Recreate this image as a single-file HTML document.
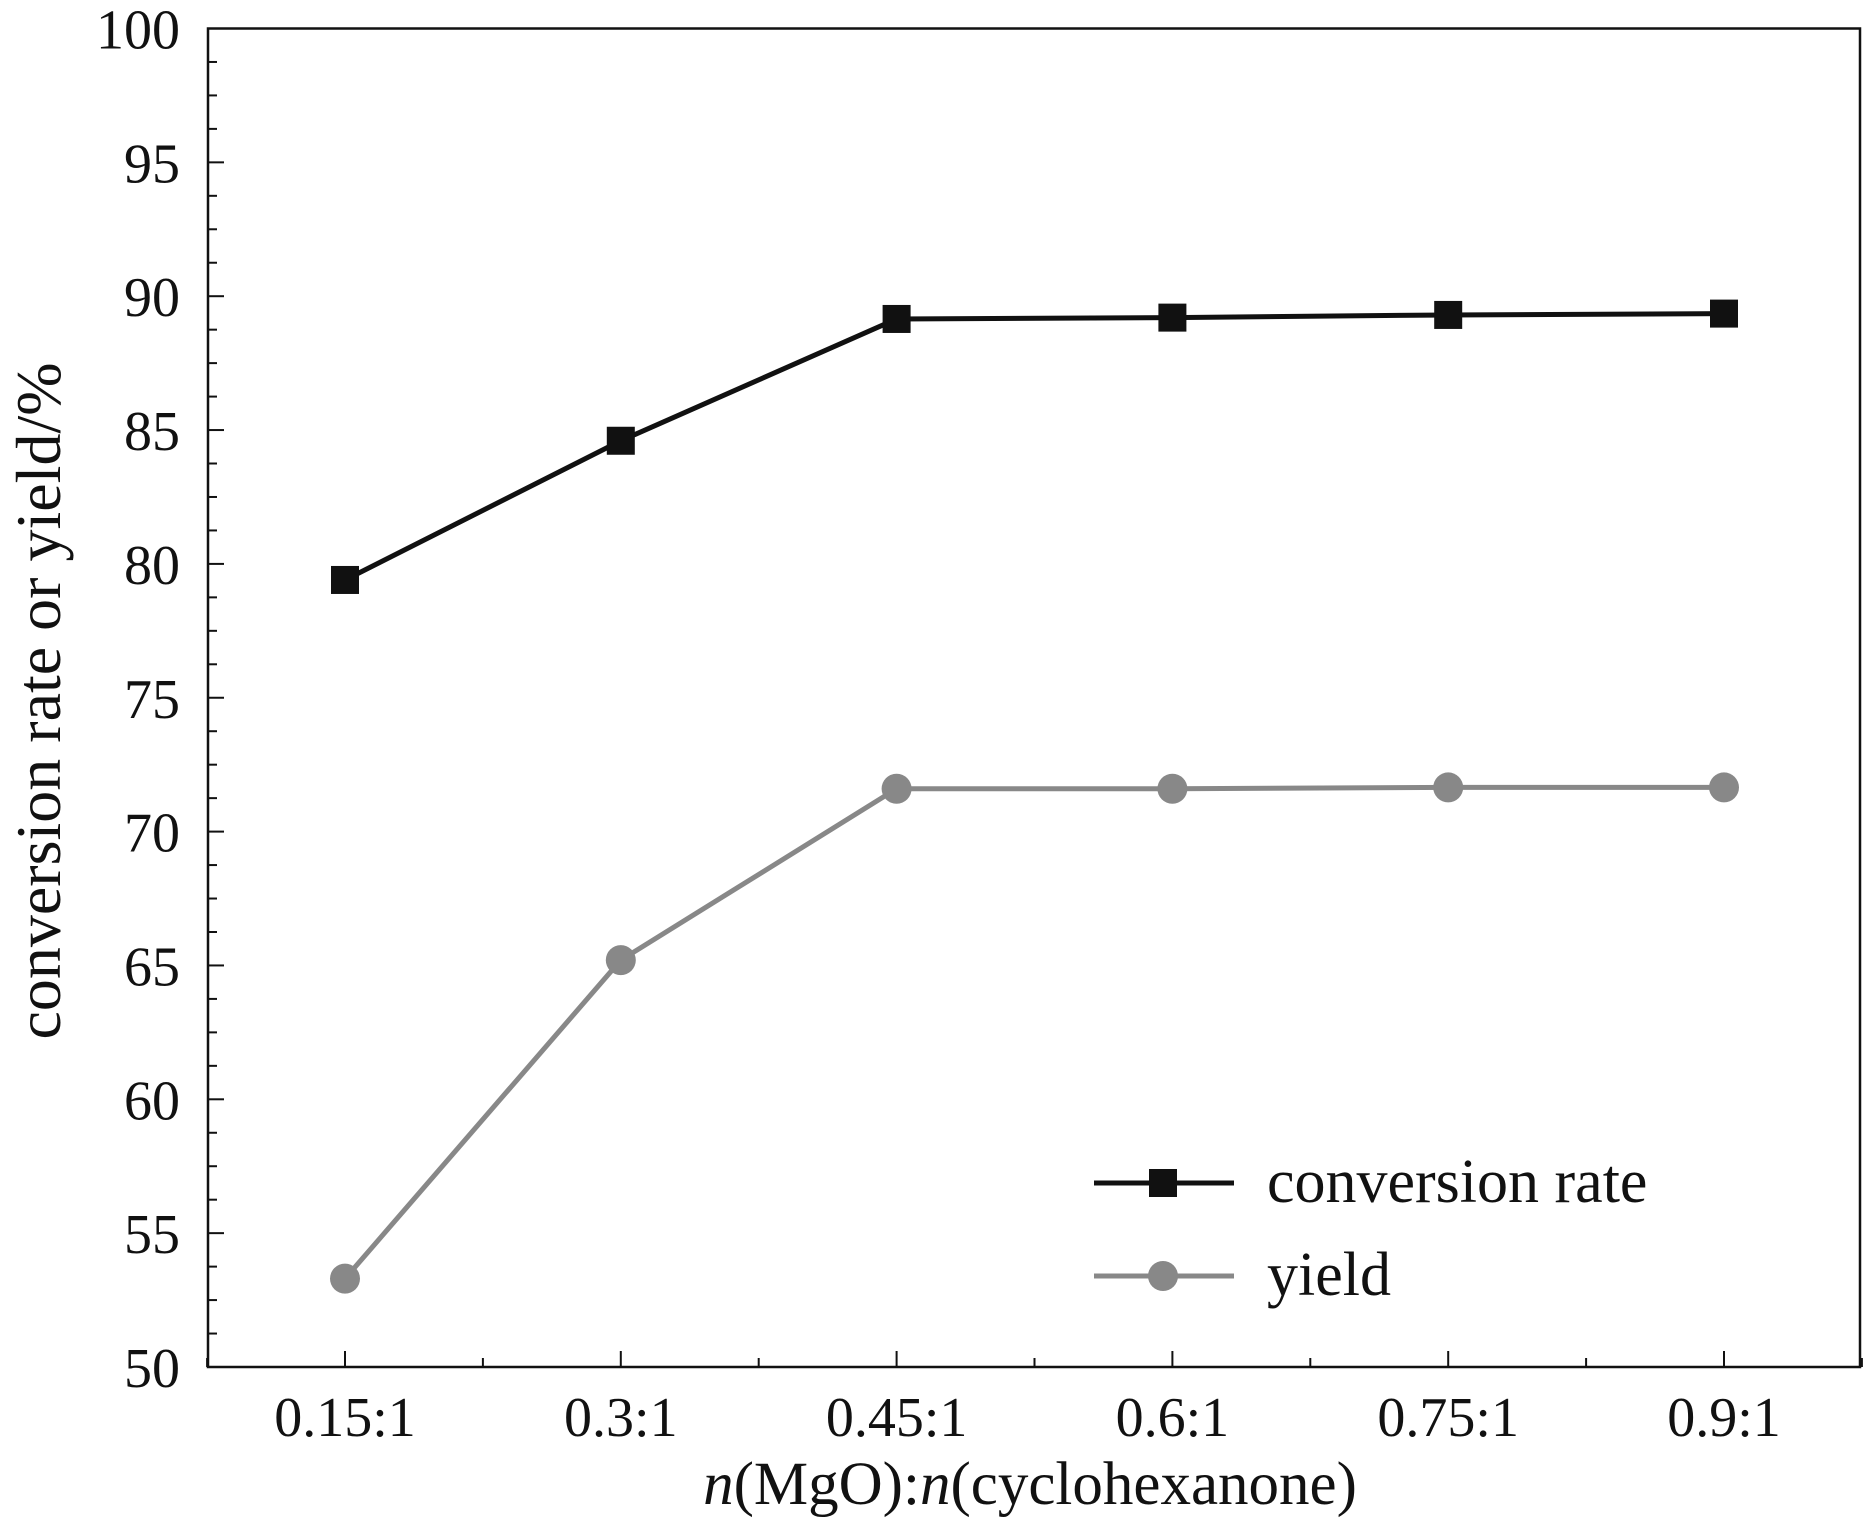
<!DOCTYPE html>
<html><head><meta charset="utf-8"><style>
html,body{margin:0;padding:0;background:#fff;}
svg{display:block;font-family:"Liberation Serif",serif;}
</style></head><body>
<svg id="chart" width="1864" height="1524" viewBox="0 0 1864 1524" xmlns="http://www.w3.org/2000/svg">
<g id="axes"></g>
<g id="series"></g>
<g id="legend">
  <line x1="1094" y1="1183" x2="1234" y2="1183" stroke="#111" stroke-width="5"/>
  <rect x="1149" y="1169" width="28" height="28" fill="#111"/>
  <text x="1267" y="1202" font-size="62" fill="#111">conversion rate</text>
  <line x1="1094" y1="1276" x2="1234" y2="1276" stroke="#888" stroke-width="5"/>
  <circle cx="1163" cy="1276" r="15" fill="#888"/>
  <text x="1267" y="1295" font-size="62" fill="#111">yield</text>
</g>
<text x="1030" y="1504" text-anchor="middle" font-size="61" fill="#111"><tspan font-style="italic">n</tspan>(MgO):<tspan font-style="italic">n</tspan>(cyclohexanone)</text>
<text transform="translate(60,701) rotate(-90)" text-anchor="middle" font-size="64" fill="#111">conversion rate or yield/%</text>
</svg>
<script>
const categories = ["0.15:1","0.3:1","0.45:1","0.6:1","0.75:1","0.9:1"];
const conversion = [79.4,84.6,89.15,89.2,89.3,89.35];
const yieldVals = [53.3,65.2,71.6,71.6,71.65,71.65];
const yTicks = [50,55,60,65,70,75,80,85,90,95,100];

const L=208,R=1860,T=28.5,B=1367;
const ns="http://www.w3.org/2000/svg";
function y(v){return B-(v-50)/50*(B-T);}
function x(i){return 345+i*275.8;}
function mk(tag,attrs,parent){const e=document.createElementNS(ns,tag);for(const k in attrs)e.setAttribute(k,attrs[k]);parent.appendChild(e);return e;}
const ax=document.getElementById('axes');
const frame=mk('rect',{x:L,y:T,width:R-L,height:B-T,fill:'none',stroke:'#111','stroke-width':2.5},ax);


for(let v=50;v<=100.01;v+=1.25){
  const major=Math.abs(v/5-Math.round(v/5))<1e-6;
  mk('line',{x1:L,x2:L+(major?16:9),y1:y(v),y2:y(v),stroke:'#111','stroke-width':2},ax);
}
yTicks.forEach(v=>{
  const t=mk('text',{x:180,y:y(v)+20,'text-anchor':'end','font-size':56,fill:'#111'},ax);
  t.textContent=v;
  
  
});
categories.forEach((c,i)=>{
  mk('line',{x1:x(i),x2:x(i),y1:B,y2:B-16,stroke:'#111','stroke-width':2},ax);
  mk('line',{x1:x(i)+137.9,x2:x(i)+137.9,y1:B,y2:B-9,stroke:'#111','stroke-width':2},ax);
  if(i===0) mk('line',{x1:x(i)-137.9,x2:x(i)-137.9,y1:B,y2:B-9,stroke:'#111','stroke-width':2},ax);
  const t=mk('text',{x:x(i),y:1436,'text-anchor':'middle','font-size':56,fill:'#111'},ax);
  t.textContent=c;
  
  
});
const sg=document.getElementById('series');
const pl1=mk('polyline',{points:conversion.map((v,i)=>x(i)+','+y(v)).join(' '),fill:'none',stroke:'#111','stroke-width':5},sg);


const pl2=mk('polyline',{points:yieldVals.map((v,i)=>x(i)+','+y(v)).join(' '),fill:'none',stroke:'#888','stroke-width':5},sg);


conversion.forEach((v,i)=>{
  const r=mk('rect',{x:x(i)-14,y:y(v)-14,width:28,height:28,fill:'#111'},sg);
  
  
});
yieldVals.forEach((v,i)=>{
  const c=mk('circle',{cx:x(i),cy:y(v),r:15,fill:'#888'},sg);
  
  
});
</script>
</body></html>
